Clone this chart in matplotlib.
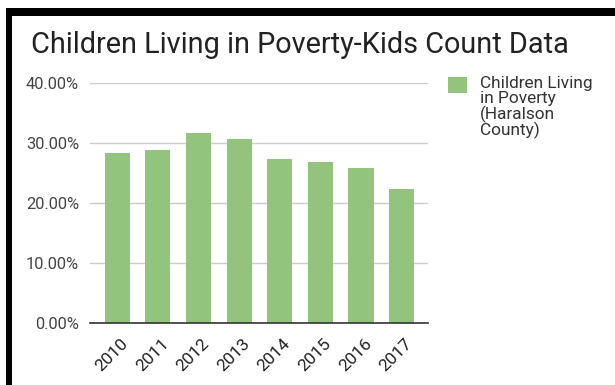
import matplotlib
matplotlib.use("Agg")
import matplotlib.pyplot as plt
import matplotlib.transforms as mtrans
from matplotlib.patches import Rectangle
from matplotlib.ticker import FuncFormatter, MultipleLocator

years = ["2010", "2011", "2012", "2013", "2014", "2015", "2016", "2017"]
poverty_pct = [28.4, 28.8, 31.7, 30.6, 27.4, 26.9, 25.8, 22.3]
series_label = "Children Living\nin Poverty\n(Haralson\nCounty)"
title = "Children Living in Poverty-Kids Count Data"

plt.rcParams['font.family'] = ['Roboto', 'DejaVu Sans']

W, H = 615, 385
fig = plt.figure(figsize=(W / 100, H / 100), dpi=100)
fig.patch.set_facecolor('white')

# black frame (top and left edges)
fig.patches.append(Rectangle((6 / W, 0), 6 / W, 1 - 8 / H, transform=fig.transFigure,
                             facecolor='black', edgecolor='none'))
fig.patches.append(Rectangle((6 / W, 1 - 16 / H), 1 - 6 / W, 8 / H, transform=fig.transFigure,
                             facecolor='black', edgecolor='none'))

ax = fig.add_axes([90 / W, 1 - 322.7 / H, (428 - 90) / W, (322.7 - 83) / H])
x = list(range(len(years)))
ax.bar(x, poverty_pct, width=0.62, color='#93c47d', zorder=2)
ax.set_xlim(-0.67, len(years) - 1 + 0.65)
ax.set_ylim(0, 40)
ax.yaxis.set_major_locator(MultipleLocator(10))
ax.yaxis.set_major_formatter(FuncFormatter(lambda v, p: f"{v:.2f}%"))
ax.grid(axis='y', color='#cccccc', linewidth=1, zorder=0)
for s in ['top', 'right', 'left']:
    ax.spines[s].set_visible(False)
ax.spines['bottom'].set_color('#333333')
ax.spines['bottom'].set_linewidth(1.2)
ax.spines['bottom'].set_zorder(3)
ax.tick_params(axis='y', length=0, pad=8, labelsize=11.8, labelcolor='#444444')
ax.tick_params(axis='x', length=0, pad=4, labelsize=12.5, labelcolor='#222222')
ax.set_xticks(x)
ax.set_xticklabels(years, rotation=45, ha='right', va='top', rotation_mode='anchor')

offset = mtrans.ScaledTranslation(3 / 100, -8 / 100, fig.dpi_scale_trans)
for lbl in ax.get_xticklabels():
    lbl.set_transform(lbl.get_transform() + offset)

fig.text(31 / W, 1 - 45 / H, title, fontsize=20.8, color='#222222', va='center', ha='left')

# legend
fig.patches.append(Rectangle((448 / W, 1 - 93 / H), 19 / W, 16 / H, transform=fig.transFigure,
                             facecolor='#93c47d', edgecolor='none'))
fig.text(480 / W, 1 - 76 / H, series_label, fontsize=12.4, color='#333333', va='top', ha='left',
         linespacing=0.97)

fig.savefig('out.png', dpi=100)
